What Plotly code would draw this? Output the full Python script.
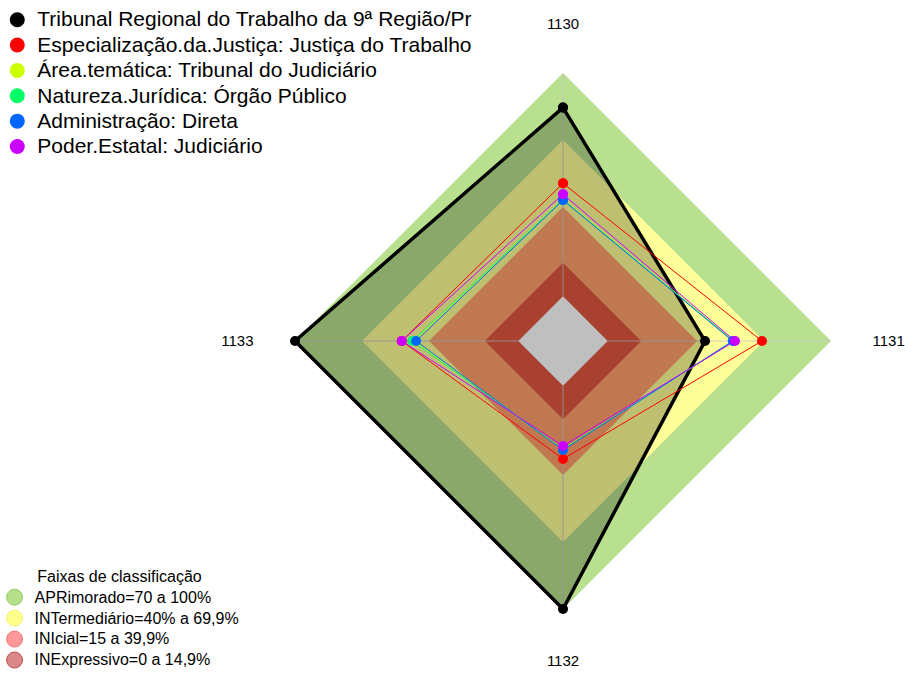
import plotly.graph_objects as go

# ---------------- data ----------------
categories = ["1130", "1131", "1132", "1133"]

series_names = [
    "Tribunal Regional do Trabalho da 9ª Região/Pr",
    "Especialização.da.Justiça: Justiça do Trabalho",
    "Área.temática: Tribunal do Judiciário",
    "Natureza.Jurídica: Órgão Público",
    "Administração: Direta",
    "Poder.Estatal: Judiciário",
]
tribunal = [84.5, 43.6, 100.0, 100.0]
especializacao = [50.6, 69.1, 32.8, 52.2]
area_tematica = [43.6, 56.6, 28.4, 46.6]
natureza = [43.3, 56.3, 28.6, 47.4]
administracao = [43.1, 56.0, 28.8, 45.8]
poder_estatal = [45.7, 57.0, 27.0, 52.2]
series_values = [tribunal, especializacao, area_tematica, natureza, administracao, poder_estatal]
series_colors = ["#000000", "#ff0000", "#ccff00", "#00ff66", "#0066ff", "#cc00ff"]

band_title = "Faixas de classificação"
band_names = [
    "APRimorado=70 a 100%",
    "INTermediário=40% a 69,9%",
    "INIcial=15 a 39,9%",
    "INExpressivo=0 a 14,9%",
]
band_upper = [100, 70, 40, 15]
band_floor = 0
band_fill = ["#b9e08e", "#ffff99", "#ffa06b", "#e0573f"]
band_legend_fill = ["rgba(150,210,90,0.7)", "rgba(255,255,100,0.75)", "rgba(255,110,110,0.7)", "rgba(200,70,70,0.65)"]
band_legend_line = ["rgba(140,200,90,0.9)", "rgba(240,240,110,0.9)", "rgba(235,110,110,0.9)", "rgba(180,70,70,0.9)"]

radial_range = [-20, 100]

closed_theta = categories + [categories[0]]


def close(vals):
    return list(vals) + [vals[0]]


def big(text, px):
    return "<span style='font-size:%dpx'>%s</span>" % (px, text)


fig = go.Figure()

# classification bands (drawn from outer to inner)
for name, up, col in zip(band_names, band_upper, band_fill):
    fig.add_trace(go.Scatterpolar(
        r=[up] * 5, theta=closed_theta, mode="lines", fill="toself",
        fillcolor=col, line=dict(width=0, color=col), showlegend=False, hoverinfo="skip"))
fig.add_trace(go.Scatterpolar(
    r=[band_floor] * 5, theta=closed_theta, mode="lines", fill="toself",
    fillcolor="#ffffff", line=dict(width=0, color="#ffffff"), showlegend=False, hoverinfo="skip"))

# spokes
for c in categories:
    fig.add_trace(go.Scatterpolar(
        r=[band_floor, band_upper[0]], theta=[c, c], mode="lines",
        line=dict(color="rgba(200,200,200,0.9)", width=1), showlegend=False, hoverinfo="skip"))

# series
for i, (name, vals, col) in enumerate(zip(series_names, series_values, series_colors)):
    if i == 0:
        fig.add_trace(go.Scatterpolar(
            r=close(vals), theta=closed_theta, mode="lines+markers", fill="toself",
            fillcolor="rgba(0,0,0,0.25)", line=dict(color=col, width=3.5),
            marker=dict(size=10, color=col), name=name, showlegend=False))
    else:
        fig.add_trace(go.Scatterpolar(
            r=close(vals), theta=closed_theta, mode="lines+markers",
            line=dict(color=col, width=1), marker=dict(size=10, color=col),
            name=name, showlegend=False))

# legend entries for series
for name, col in zip(series_names, series_colors):
    fig.add_trace(go.Scatterpolar(
        r=[None], theta=[None], mode="markers", marker=dict(size=15, color=col),
        name=big(name, 21), legend="legend", showlegend=True))

# legend entries for bands
for name, fc, lc in zip(band_names, band_legend_fill, band_legend_line):
    fig.add_trace(go.Scatterpolar(
        r=[None], theta=[None], mode="markers",
        marker=dict(size=16, color=fc, line=dict(color=lc, width=1)),
        name=big(name, 16), legend="legend2", showlegend=True))

cx, cy, R = 563, 341, 268
W, H = 905, 675
dom_x = [(cx - R) / W, (cx + R) / W]
dom_y = [(H - cy - R) / H, (H - cy + R) / H]

fig.update_layout(
    width=W, height=H,
    margin=dict(l=0, r=0, t=0, b=0, autoexpand=False),
    paper_bgcolor="white",
    font=dict(family="Liberation Sans, Arial, sans-serif", color="#000000"),
    polar=dict(
        domain=dict(x=dom_x, y=dom_y),
        bgcolor="rgba(0,0,0,0)",
        radialaxis=dict(visible=False, range=radial_range, showgrid=False),
        angularaxis=dict(
            type="category", categoryarray=categories, rotation=90, direction="clockwise",
            showgrid=False, showline=False, ticks="outside", ticklen=38,
            tickcolor="rgba(0,0,0,0)", tickfont=dict(size=15, color="#000000")),
    ),
    legend=dict(
        x=-0.003, y=0.997, xanchor="left", yanchor="top",
        font=dict(size=17.2, color="#000000"), bgcolor="rgba(0,0,0,0)",
        itemsizing="trace", tracegroupgap=0),
    legend2=dict(
        x=-0.006, y=-0.0014, xanchor="left", yanchor="bottom",
        font=dict(size=13.8, color="#000000"), bgcolor="rgba(0,0,0,0)",
        title=dict(text=band_title, side="top center", font=dict(size=16)),
        itemsizing="trace"),
)

fig.write_html(
    "out.html",
    config={"displayModeBar": False},
    post_script="document.body.style.margin='0px';document.body.style.overflow='hidden';",
)
